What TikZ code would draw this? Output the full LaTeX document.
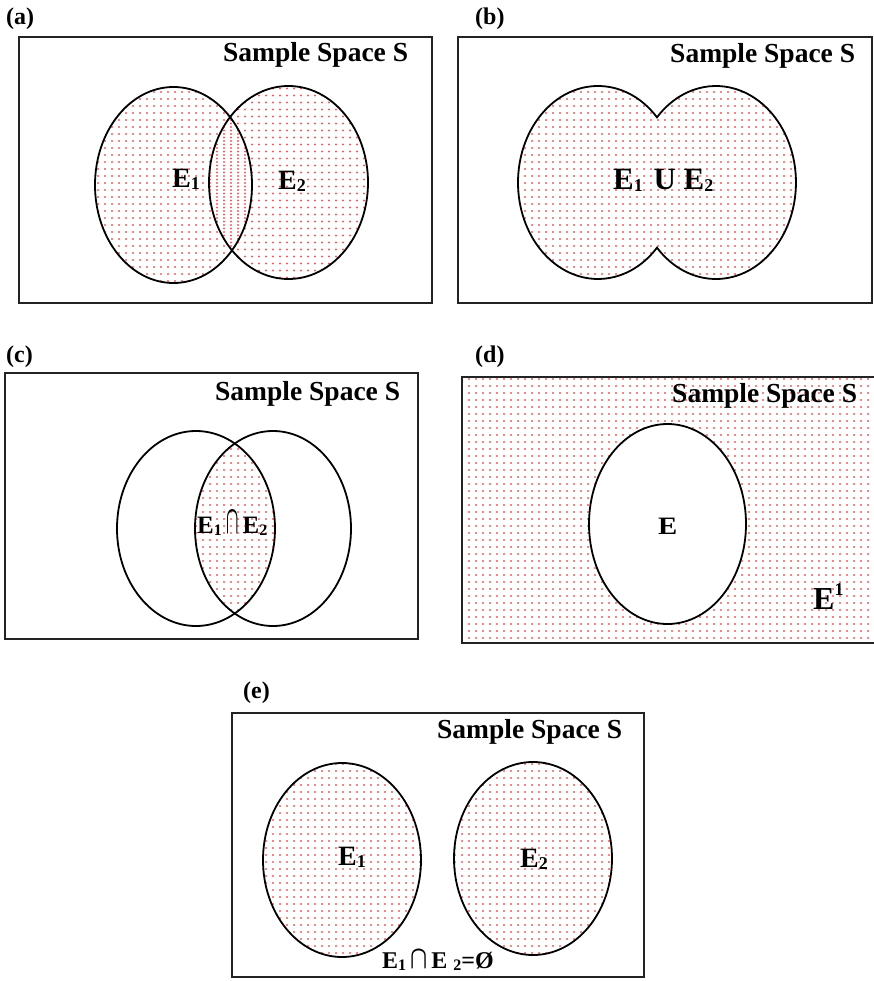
\documentclass[tikz,border=0pt]{standalone}
\usepackage{fontspec}
\setmainfont{Liberation Serif}
\usetikzlibrary{patterns}

\pgfdeclarepatternformonly{dotsA}{\pgfqpoint{-2pt}{-2pt}}{\pgfqpoint{2pt}{2pt}}{\pgfqpoint{7pt}{7pt}}{%
  \pgfpathcircle{\pgfqpoint{0pt}{0pt}}{1.05pt}\pgfusepath{fill}}
\pgfdeclarepatternformonly{dotsB}{\pgfqpoint{-2pt}{1.5pt}}{\pgfqpoint{2pt}{5.5pt}}{\pgfqpoint{7pt}{7pt}}{%
  \pgfpathcircle{\pgfqpoint{0pt}{3.5pt}}{1.05pt}\pgfusepath{fill}}

\definecolor{dotred}{RGB}{232,95,95}
\definecolor{boxgray}{RGB}{35,35,35}

\newcommand{\sbs}[1]{\raisebox{-2pt}{\fontsize{18}{18}\selectfont #1}}
\newcommand{\sbsm}[1]{\raisebox{-2pt}{\fontsize{16}{16}\selectfont #1}}

\tikzset{
  sbox/.style={draw=boxgray, line width=1.5pt},
  venn/.style={draw=black, line width=1.8pt},
  fillA/.style={pattern=dotsA, pattern color=dotred},
  fillB/.style={pattern=dotsB, pattern color=dotred},
  panellbl/.style={font=\fontsize{24}{26}\selectfont\bfseries, anchor=base west, inner sep=0pt},
  samplelbl/.style={font=\fontsize{27.5}{30}\selectfont\bfseries, anchor=base west, inner sep=0pt},
  evlbl/.style={font=\fontsize{28}{30}\selectfont\bfseries, anchor=base west, inner sep=0pt},
}

\begin{document}
\begin{tikzpicture}[x=1pt, y=-1pt]
\useasboundingbox (0,0) rectangle (874,981);

% ---------------- (a)
\node[panellbl] (la) at (6,25) {(a)};
\draw[sbox] (19,37) rectangle (432,303);
\fill[fillA] (173.5,185) ellipse [x radius=78.5pt, y radius=98pt];
\fill[fillB] (288.5,182.5) ellipse [x radius=79.5pt, y radius=96.5pt];
\draw[venn] (173.5,185) ellipse [x radius=78.5pt, y radius=98pt];
\draw[venn] (288.5,182.5) ellipse [x radius=79.5pt, y radius=96.5pt];
\node[samplelbl] (sa) at (223,62) {Sample Space S};
\node[evlbl] (e1a) at (172,188) {E\sbs{1}};
\node[evlbl] (e2a) at (278,190) {E\sbs{2}};

% ---------------- (b)
\node[panellbl] (lb) at (475,25) {(b)};
\draw[sbox] (458,37) rectangle (872,303);
\path[fillA, venn] (598,182.5) ++(42.5:80pt and 96.5pt)
  arc[start angle=42.5, end angle=317.5, x radius=80pt, y radius=96.5pt]
  arc[start angle=-137.5, end angle=137.5, x radius=80pt, y radius=96.5pt] -- cycle;
\node[samplelbl] (sb) at (670,62.5) {Sample Space S};
\node[evlbl, font=\fontsize{31}{33}\selectfont\bfseries] (ub) at (613,190)
  {E\sbs{1}\hspace{3pt} U E\sbs{2}};

% ---------------- (c)
\node[panellbl] (lc) at (6,362) {(c)};
\draw[sbox] (5,373) rectangle (418,639);
\begin{scope}
  \clip (196,528.5) ellipse [x radius=79pt, y radius=97.5pt];
  \fill[fillA] (273,528.5) ellipse [x radius=78pt, y radius=97.5pt];
\end{scope}
\draw[venn] (196,528.5) ellipse [x radius=79pt, y radius=97.5pt];
\draw[venn] (273,528.5) ellipse [x radius=78pt, y radius=97.5pt];
\node[samplelbl] (sc) at (215,400) {Sample Space S};
\node[evlbl, font=\fontsize{25}{27}\selectfont\bfseries] (ic) at (197,533)
  {E\sbsm{1}\,\scalebox{0.65}[1.6]{\boldmath$\cap$}\,E\sbsm{2}};

% ---------------- (d)
\node[panellbl] (ld) at (475,362) {(d)};
\fill[fillA] (462,377) rectangle (880,643);
\filldraw[fill=white, venn] (667.5,524) ellipse [x radius=78.5pt, y radius=100pt];
\draw[sbox] (462,377) rectangle (880,643);
\node[samplelbl] (sd) at (672,402.5) {Sample Space S};
\node[evlbl, font=\fontsize{25}{27}\selectfont\bfseries] (ed) at (658,534) {\scalebox{1.15}[1]{E}};
\node[evlbl, font=\fontsize{32}{34}\selectfont\bfseries] (ecd) at (813,609)
  {E\raisebox{14pt}{\fontsize{18}{18}\selectfont 1}};

% ---------------- (e)
\node[panellbl] (le) at (243,698) {(e)};
\draw[sbox] (232,713) rectangle (644,977);
\filldraw[fillA, venn] (342,860) ellipse [x radius=79pt, y radius=97pt];
\filldraw[fillA, venn] (533,858.5) ellipse [x radius=79pt, y radius=96.5pt];
\node[samplelbl] (se) at (437,738) {Sample Space S};
\node[evlbl] (e1e) at (338,865) {E\sbs{1}};
\node[evlbl] (e2e) at (520,867) {E\sbs{2}};
\node[evlbl, font=\fontsize{24}{26}\selectfont\bfseries] (ne) at (382,968)
  {E\sbsm{1}\,\scalebox{0.9}[1.3]{\boldmath$\cap$}\,E \sbsm{2}=Ø};
\end{tikzpicture}
\end{document}
